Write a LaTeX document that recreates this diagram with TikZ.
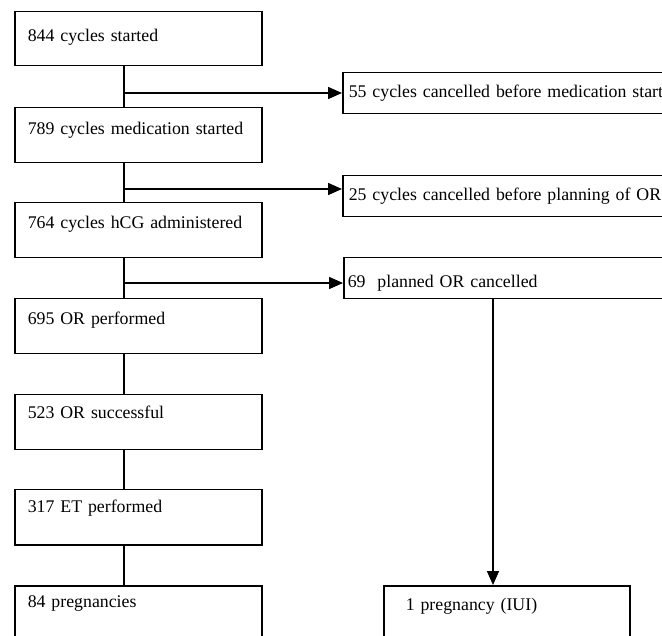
\documentclass[tikz,border=0pt]{standalone}
\usepackage{fontspec}
\setmainfont{Liberation Serif}
\usetikzlibrary{arrows.meta}
\begin{document}
\begin{tikzpicture}[x=1pt,y=-1pt,
  every node/.style={font=\fontsize{17.8}{20}\selectfont},
  lbox/.style={draw,line width=1.5pt,anchor=north west,align=left,
    inner xsep=13pt,inner ysep=0pt,text width=221pt},
  rbox/.style={draw,line width=1.5pt,anchor=north west,align=left,
    inner xsep=6pt,inner ysep=0pt,text width=330pt,text height=25pt,text depth=16pt},
  conn/.style={line width=1.5pt},
  arr/.style={line width=1.5pt,-{Triangle[length=14pt,width=12pt]}}]
\useasboundingbox (0,0) rectangle (662,636);
\clip (0,0) rectangle (662,636);
\fill[white] (0,0) rectangle (662,636);
% left column
\node[lbox,text height=30pt,text depth=24pt] (b1) at (14,11) {844 cycles started};
\node[lbox,text height=27pt,text depth=28pt] (b2) at (14,107) {789 cycles medication started};
\node[lbox,text height=26pt,text depth=29pt] (b3) at (14,202) {764 cycles hCG administered};
\node[lbox,text height=26pt,text depth=29pt] (b4) at (14,298) {695 OR performed};
\node[lbox,text height=24pt,text depth=31pt] (b5) at (14,394) {523 OR successful};
\node[lbox,text height=23pt,text depth=32pt] (b6) at (14,489) {317 ET performed};
\node[lbox,text height=22pt,text depth=33pt] (b7) at (14,585) {84 pregnancies};
% right column
\node[rbox] (r1) at (342,72) {55 cycles cancelled before medication start};
\node[rbox] (r2) at (342,175) {25 cycles cancelled before planning of OR};
\node[rbox,text height=30pt,text depth=11pt,inner xsep=4pt] (r3) at (343,257) {69\ \ planned OR cancelled};
\node[draw,line width=1.5pt,anchor=north west,align=left,inner xsep=22pt,inner ysep=0pt,
  text width=202pt,text height=25pt,text depth=30pt] (p1) at (383,585) {1 pregnancy (IUI)};
% trunk coordinates
\coordinate (c1) at (124,93);
\coordinate (c2) at (124,189);
\coordinate (c3) at (124,283);
\coordinate (d1) at (493,298);
% connectors
\draw[conn] (b1.south -| c1) -- (b2.north -| c1);
\draw[conn] (b2.south -| c1) -- (b3.north -| c1);
\draw[conn] (b3.south -| c1) -- (b4.north -| c1);
\draw[conn] (b4.south -| c1) -- (b5.north -| c1);
\draw[conn] (b5.south -| c1) -- (b6.north -| c1);
\draw[conn] (b6.south -| c1) -- (b7.north -| c1);
\draw[arr] (c1) -- (r1.west |- c1);
\draw[arr] (c2) -- (r2.west |- c2);
\draw[arr] (c3) -- (r3.west |- c3);
\draw[arr] (r3.south -| d1) -- (p1.north -| d1);
\end{tikzpicture}
\end{document}
